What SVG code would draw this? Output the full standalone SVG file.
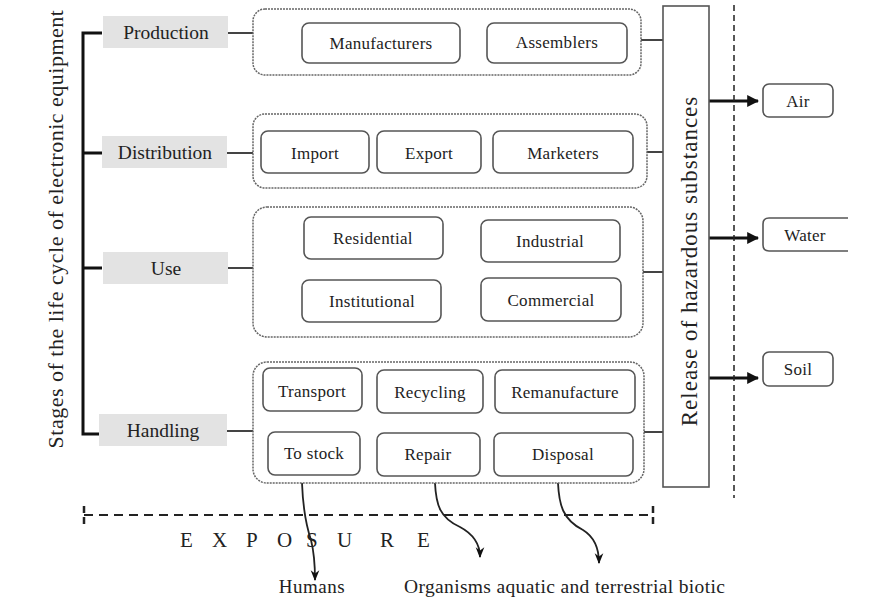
<svg xmlns="http://www.w3.org/2000/svg" width="876" height="599" viewBox="0 0 876 599">
<style>
text{font-family:"Liberation Serif","Times New Roman",serif;fill:#222}
.lbl{font-size:19.5px;text-anchor:middle}
.box{font-size:17px;text-anchor:middle;letter-spacing:0.3px}
.stage{fill:#e3e3e3}
.grp{fill:none;stroke:#666;stroke-width:1.5;stroke-dasharray:2 1}
.nd{fill:#fff;stroke:#555;stroke-width:1.6}
.ln{stroke:#444;stroke-width:2;fill:none}
.br{stroke:#111;stroke-width:3;fill:none}
.dash{stroke:#222;stroke-width:2;stroke-dasharray:9 6;fill:none}
.arr{stroke:#111;stroke-width:3;fill:none}
.crv{stroke:#222;stroke-width:1.8;fill:none}
</style>
<defs>
<marker id="ah" viewBox="0 0 10 10" refX="9" refY="5" markerWidth="4" markerHeight="4" orient="auto"><path d="M0,0L10,5L0,10z" fill="#111"/></marker>
<marker id="ah2" viewBox="0 0 10 10" refX="9" refY="5" markerWidth="6" markerHeight="6" orient="auto"><path d="M0,1L10,5L0,9L3,5z" fill="#111"/></marker>
</defs>

<text transform="translate(63,229) rotate(-90)" text-anchor="middle" font-size="22" letter-spacing="0.5">Stages of the life cycle of electronic equipment</text>

<g id="connectors">
<path class="br" d="M102,33H83V434H102M83,153H102M83,268H102"/>
<path class="ln" d="M228,33H253M227,153H253M228,268H253M227,431H253"/>
<path class="ln" d="M641,40H664M647,152H664M643,272H664M644,432H664"/>
<path class="arr" marker-end="url(#ah)" d="M709,101H758"/>
<path class="arr" marker-end="url(#ah)" d="M709,238H758"/>
<path class="arr" marker-end="url(#ah)" d="M709,378H758"/>
<path d="M734,5V498" stroke="#222" stroke-width="1.5" stroke-dasharray="6 4"/>
<path class="dash" d="M84,515H653"/>
<path d="M84,506V528M653,506V528" stroke="#222" stroke-width="2.5" stroke-dasharray="7 4"/>
<path class="crv" marker-end="url(#ah2)" d="M302,483C303,510 306,525 311,540C314,552 315,565 315,580"/>
<path class="crv" marker-end="url(#ah2)" d="M435,483C436,505 440,518 460,527C475,535 480,545 480,557"/>
<path class="crv" marker-end="url(#ah2)" d="M558,483C559,505 563,520 583,530C596,538 599,550 599,563"/>
</g>

<g id="production"><rect class="stage" x="103" y="16" width="125" height="32"/><text class="lbl" x="166" y="39">Production</text></g>
<g id="distribution"><rect class="stage" x="102" y="136" width="125" height="32"/><text class="lbl" x="165" y="159">Distribution</text></g>
<g id="use"><rect class="stage" x="103" y="252" width="125" height="32"/><text class="lbl" x="166" y="275">Use</text></g>
<g id="handling"><rect class="stage" x="99" y="414" width="128" height="32"/><text class="lbl" x="163" y="437">Handling</text></g>

<g id="production-group"><rect class="grp" x="253" y="9" width="388" height="66" rx="12"/></g>
<g id="manufacturers"><rect class="nd" x="302" y="23" width="158" height="40" rx="7"/><text class="box" x="381" y="49">Manufacturers</text></g>
<g id="assemblers"><rect class="nd" x="487" y="23" width="140" height="40" rx="7"/><text class="box" x="557" y="48">Assemblers</text></g>

<g id="distribution-group"><rect class="grp" x="253" y="114" width="394" height="74" rx="12"/></g>
<g id="import"><rect class="nd" x="261" y="131" width="108" height="42" rx="7"/><text class="box" x="315" y="159">Import</text></g>
<g id="export"><rect class="nd" x="377" y="131" width="104" height="42" rx="7"/><text class="box" x="429" y="159">Export</text></g>
<g id="marketers"><rect class="nd" x="493" y="131" width="140" height="42" rx="7"/><text class="box" x="563" y="159">Marketers</text></g>

<g id="use-group"><rect class="grp" x="253" y="207" width="390" height="130" rx="14"/></g>
<g id="residential"><rect class="nd" x="304" y="217" width="139" height="42" rx="7"/><text class="box" x="373" y="244">Residential</text></g>
<g id="industrial"><rect class="nd" x="481" y="220" width="139" height="42" rx="7"/><text class="box" x="550" y="247">Industrial</text></g>
<g id="institutional"><rect class="nd" x="302" y="280" width="139" height="42" rx="7"/><text class="box" x="372" y="307">Institutional</text></g>
<g id="commercial"><rect class="nd" x="481" y="278" width="140" height="43" rx="7"/><text class="box" x="551" y="306">Commercial</text></g>

<g id="handling-group"><rect class="grp" x="253" y="362" width="391" height="121" rx="14"/></g>
<g id="transport"><rect class="nd" x="263" y="368" width="99" height="43" rx="7"/><text class="box" x="312" y="397">Transport</text></g>
<g id="recycling"><rect class="nd" x="377" y="370" width="106" height="43" rx="7"/><text class="box" x="430" y="398">Recycling</text></g>
<g id="remanufacture"><rect class="nd" x="495" y="370" width="140" height="43" rx="7"/><text class="box" x="565" y="398">Remanufacture</text></g>
<g id="tostock"><rect class="nd" x="268" y="432" width="92" height="43" rx="7"/><text class="box" x="314" y="459">To stock</text></g>
<g id="repair"><rect class="nd" x="377" y="433" width="103" height="43" rx="7"/><text class="box" x="428" y="460">Repair</text></g>
<g id="disposal"><rect class="nd" x="494" y="433" width="139" height="43" rx="7"/><text class="box" x="563" y="460">Disposal</text></g>

<g id="release"><rect x="663" y="6" width="46" height="481" fill="#fff" stroke="#555" stroke-width="1.6"/><text transform="translate(697,261) rotate(-90)" text-anchor="middle" font-size="23" letter-spacing="1">Release of  hazardous  substances</text></g>

<g id="air"><rect class="nd" x="763" y="84" width="70" height="33" rx="6"/><text class="box" x="798" y="107">Air</text></g>
<g id="water"><path class="nd" d="M848,218H769Q763,218 763,224V245Q763,251 769,251H848"/><text class="box" x="805" y="241">Water</text></g>
<g id="soil"><rect class="nd" x="763" y="352" width="70" height="34" rx="6"/><text class="box" x="798" y="375">Soil</text></g>

<text x="180 212 246 277 306 337 380 417" y="547" font-size="21">EXPOSURE</text>
<g id="humans"><text x="312" y="593" font-size="19" text-anchor="middle" letter-spacing="0.5">Humans</text></g>
<g id="organisms"><text x="404" y="593" font-size="19.5" letter-spacing="0.35">Organisms aquatic and terrestrial biotic</text></g>
</svg>
